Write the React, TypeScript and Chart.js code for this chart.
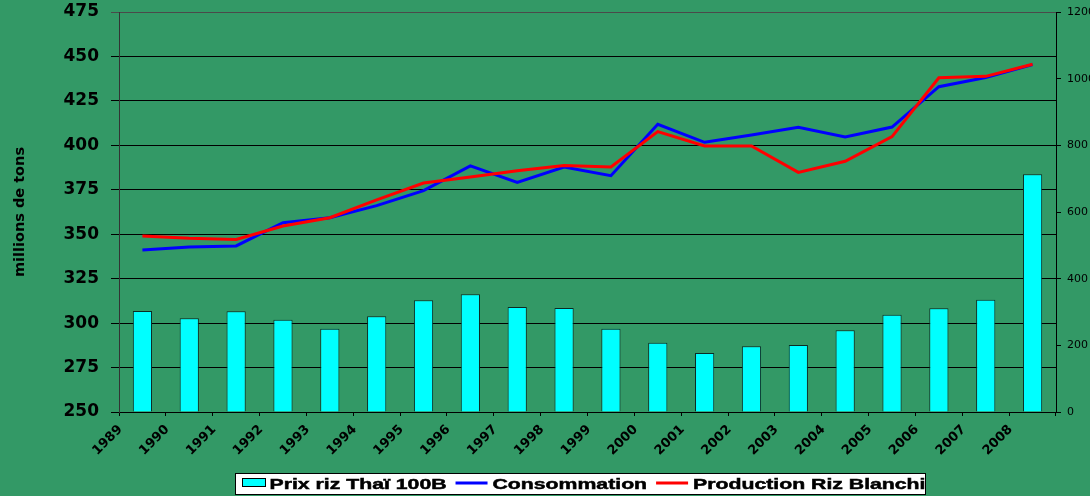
import React, { useEffect, useRef } from 'react';
import { Chart, registerables } from 'chart.js';

Chart.register(...registerables);

// ---- data ----
const years = ['1989', '1990', '1991', '1992', '1993', '1994', '1995', '1996', '1997', '1998',
  '1999', '2000', '2001', '2002', '2003', '2004', '2005', '2006', '2007', '2008'];

const prixRiz = [303, 281, 302, 277, 250, 287, 335, 353, 315, 312,
  250, 208, 177, 197, 201, 245, 292, 311, 337, 713];

const consommation = [341.1, 342.8, 343.4, 356.5, 359.3, 366.1, 374.5, 388.4, 379.2, 387.8,
  382.9, 411.8, 401.7, 405.8, 410.1, 404.7, 410.3, 433.0, 438.2, 445.4];

const production = [349.0, 347.7, 347.1, 354.6, 359.3, 369.3, 378.8, 382.2, 385.7, 388.7,
  387.8, 407.7, 399.6, 399.6, 384.8, 391.0, 404.9, 438.0, 438.8, 445.6];

const seriesLabels = ['Prix riz Thaï 100B', 'Consommation', 'Production Riz Blanchi'];
const leftTicks = [250, 275, 300, 325, 350, 375, 400, 425, 450, 475];
const rightTicks = [0, 200, 400, 600, 800, 1000, 1200];
const yTitle = 'millions de tons';

const BG = '#339966';

export default function App() {
  const ref = useRef<HTMLCanvasElement>(null);

  useEffect(() => {
    document.body.style.margin = '0';
    const canvas = ref.current!;

    const bgPlugin = {
      id: 'bg',
      beforeDraw(chart: any) {
        const { ctx, width, height } = chart;
        ctx.save();
        ctx.fillStyle = BG;
        ctx.fillRect(0, 0, width, height);
        ctx.restore();
      },
    };

    const legendPlugin = {
      id: 'boxLegend',
      afterDraw(chart: any) {
        const ctx = chart.ctx as CanvasRenderingContext2D;
        const ds = chart.data.datasets;
        const sx = 1.37;
        ctx.save();
        ctx.font = 'bold 15.5px "Liberation Sans", Arial, sans-serif';
        const L = 235.5, T = 473.5, W = 690, H = 21;
        ctx.fillStyle = '#ffffff';
        ctx.fillRect(L, T, W, H);
        ctx.strokeStyle = '#000000';
        ctx.lineWidth = 1;
        ctx.strokeRect(L, T, W, H);
        let x = L + 7;
        ds.forEach((d: any) => {
          if (d.type === 'line') {
            ctx.strokeStyle = d.borderColor;
            ctx.lineWidth = 3;
            ctx.beginPath();
            ctx.moveTo(x, 483);
            ctx.lineTo(x + 32, 483);
            ctx.stroke();
            x += 37;
          } else {
            ctx.fillStyle = d.backgroundColor;
            ctx.fillRect(x, 478.5, 23, 8);
            ctx.strokeStyle = '#000000';
            ctx.lineWidth = 1;
            ctx.strokeRect(x, 478.5, 23, 8);
            x += 27;
          }
          ctx.save();
          ctx.translate(x, 489);
          ctx.scale(sx, 1);
          ctx.fillStyle = '#000000';
          ctx.textBaseline = 'alphabetic';
          ctx.fillText(d.label, 0, 0);
          ctx.strokeStyle = '#000000';
          ctx.lineWidth = 0.5;
          ctx.strokeText(d.label, 0, 0);
          const w = ctx.measureText(d.label).width;
          ctx.restore();
          x += w * sx + 9;
        });
        ctx.restore();
      },
    };

    const chart = new Chart(canvas, {
      type: 'bar',
      data: {
        labels: years,
        datasets: [
          {
            type: 'bar',
            label: seriesLabels[0],
            data: prixRiz,
            yAxisID: 'y1',
            backgroundColor: '#00FFFF',
            borderColor: '#0b2b24',
            borderWidth: 1,
            barPercentage: 0.41,
            categoryPercentage: 1,
            order: 2,
          } as any,
          {
            type: 'line',
            label: seriesLabels[1],
            data: consommation,
            yAxisID: 'y',
            borderColor: '#0000FF',
            backgroundColor: '#0000FF',
            borderWidth: 3,
            pointRadius: 0,
            tension: 0,
            order: 1,
          },
          {
            type: 'line',
            label: seriesLabels[2],
            data: production,
            yAxisID: 'y',
            borderColor: '#FF0000',
            backgroundColor: '#FF0000',
            borderWidth: 3,
            pointRadius: 0,
            tension: 0,
            order: 0,
          },
        ],
      },
      options: {
        responsive: false,
        animation: false,
        layout: { padding: { top: 12, left: 0, right: 0, bottom: 0 } },
        plugins: {
          legend: { display: false },
          tooltip: { enabled: false },
        },
        scales: {
          x: {
            type: 'category',
            offset: true,
            grid: {
              offset: true,
              drawOnChartArea: false,
              drawTicks: true,
              tickLength: 4,
              color: '#000000',
            },
            border: { color: '#000000', width: 1 },
            ticks: {
              autoSkip: false,
              minRotation: 45,
              maxRotation: 45,
              labelOffset: -22,
              padding: 6,
              color: '#000000',
              font: { family: '"DejaVu Sans", sans-serif', weight: 'bold', size: 13 },
            },
            afterFit(scale: any) {
              scale.height = 84;
              scale.paddingLeft = 0;
              scale.paddingRight = 0;
            },
          },
          y: {
            type: 'linear',
            position: 'left',
            min: leftTicks[0],
            max: leftTicks[leftTicks.length - 1],
            afterBuildTicks(scale: any) {
              scale.ticks = leftTicks.map((v) => ({ value: v }));
            },
            grid: {
              color: (c: any) => (c.tick && c.tick.value === 475 ? '#4a4a4a' : '#000000'),
              lineWidth: 1,
              tickLength: 8,
            },
            border: { color: '#333333', width: 1 },
            ticks: {
              padding: 12,
              color: '#000000',
              font: { family: '"DejaVu Sans", sans-serif', weight: 'bold', size: 17 },
            },
            title: {
              display: true,
              text: yTitle,
              color: '#000000',
              font: { family: '"DejaVu Sans", sans-serif', weight: 'bold', size: 14.5 },
              padding: { top: 12, bottom: 12 },
            },
            afterFit(scale: any) {
              scale.width = 119;
              scale.paddingTop = 0;
              scale.paddingBottom = 0;
            },
          },
          y1: {
            type: 'linear',
            position: 'right',
            min: rightTicks[0],
            max: rightTicks[rightTicks.length - 1],
            afterBuildTicks(scale: any) {
              scale.ticks = rightTicks.map((v) => ({ value: v }));
            },
            grid: {
              drawOnChartArea: false,
              color: '#000000',
              tickLength: 5,
            },
            border: { color: '#000000', width: 1 },
            ticks: {
              padding: 6,
              color: '#000000',
              font: { family: '"DejaVu Sans", sans-serif', size: 11 },
              callback: (v: any) => String(v),
            },
            afterFit(scale: any) {
              scale.width = 34;
              scale.paddingTop = 0;
              scale.paddingBottom = 0;
            },
          },
        },
      },
      plugins: [bgPlugin, legendPlugin],
    });

    return () => chart.destroy();
  }, []);

  return (
    <div style={{ width: 1090, height: 496 }}>
      <canvas ref={ref} width={1090} height={496} style={{ display: 'block', width: 1090, height: 496 }} />
    </div>
  );
}
